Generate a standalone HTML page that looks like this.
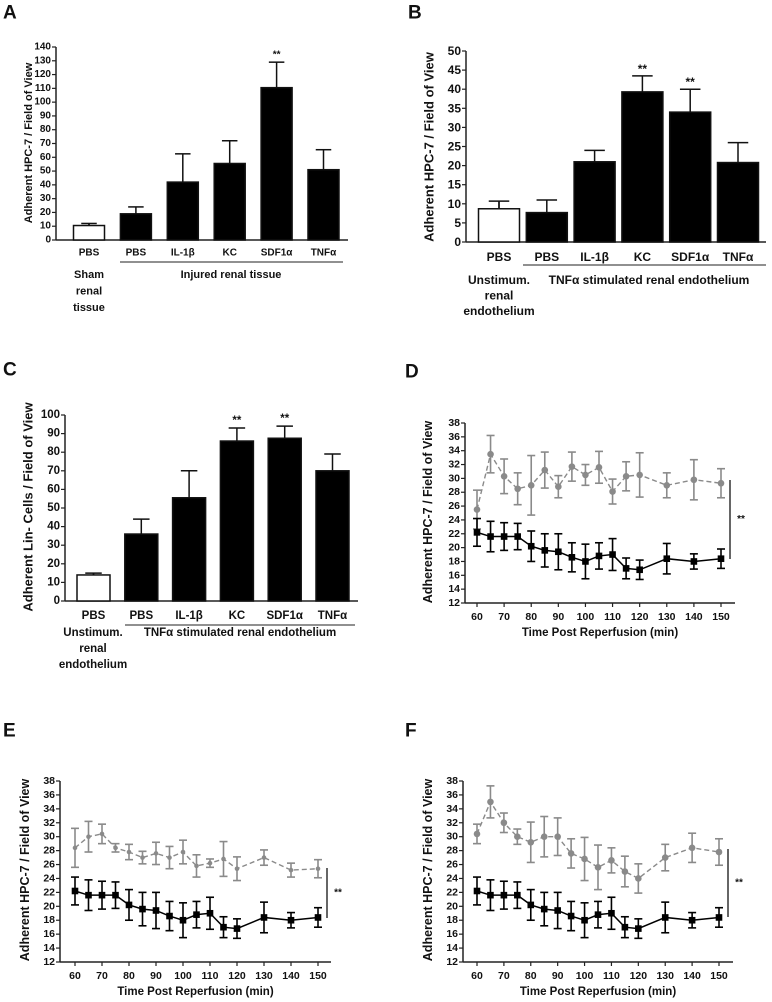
<!DOCTYPE html>
<html><head><meta charset="utf-8">
<style>
html,body{margin:0;padding:0;background:#fff;}
svg{display:block;font-family:"Liberation Sans",sans-serif;}
text{font-weight:bold;fill:#111;}
</style></head>
<body>
<svg id="fig" width="772" height="1002" viewBox="0 0 772 1002" xmlns="http://www.w3.org/2000/svg"></svg>
<script>
// ---------- data ----------
const barCats = ["PBS","PBS","IL-1β","KC","SDF1α","TNFα"];
const aVals = [10.5,19,42,55.5,110.5,51];
const aErrs = [12,24,62.5,72,129,65.5];
const aSig = [false,false,false,false,true,false];
const aTicks = [0,10,20,30,40,50,60,70,80,90,100,110,120,130,140];
const bVals = [8.7,7.7,21,39.3,34,20.8];
const bErrs = [10.7,11,24,43.5,40,26];
const bSig = [false,false,false,true,true,false];
const bTicks = [0,5,10,15,20,25,30,35,40,45,50];
const cVals = [14,36,55.5,86,87.5,70];
const cErrs = [15,44,70,93,94,79];
const cSig = [false,false,false,true,true,false];
const cTicks = [0,10,20,30,40,50,60,70,80,90,100];

const times = [60,65,70,75,80,85,90,95,100,105,110,115,120,130,140,150];
const timeTicks = [60,70,80,90,100,110,120,130,140,150];
const lineYTicks = [12,14,16,18,20,22,24,26,28,30,32,34,36,38];
const blackMean = [22.2,21.6,21.6,21.6,20.2,19.6,19.4,18.6,18,18.8,19,17,16.8,18.4,18,18.4];
const blackErr  = [2,2.2,2,1.9,2.2,2.4,2.6,2.1,2.5,1.9,2.3,1.5,1.4,2.2,1.1,1.4];
const dGrayMean = [25.5,33.5,30.3,28.5,29,31.2,28.8,31.7,30.5,31.6,28.1,30.3,30.5,29,29.8,29.3];
const dGrayErr  = [2.8,2.7,2.5,2.3,4.3,2.6,1.6,2.1,1.5,2.3,1.8,2.1,3.2,1.8,2.9,2.1];
const eGrayMean = [28.4,30,30.4,28.4,27.8,27,27.6,27,27.8,25.8,26.2,26.8,25.4,27,25.2,25.4];
const eGrayErr  = [2.8,2.2,1.4,0.6,1.1,0.9,1.6,1.6,1.7,1.6,0.6,2.5,1.7,1.1,1,1.3];
const fGrayMean = [30.4,35,32,30,29.2,30,30,27.6,26.8,25.6,26.6,25,24,27,28.4,27.8];
const fGrayErr  = [1.4,2.3,1.4,1.1,2.9,2.9,2.7,2.1,3.1,3.2,1.8,2.2,2.1,1.9,2.1,1.9];

// ---------- helpers ----------
const NS="http://www.w3.org/2000/svg";
const svg=document.getElementById('fig');
function mk(tag,attrs,parent){const e=document.createElementNS(NS,tag);for(const k in attrs)e.setAttribute(k,attrs[k]);(parent||svg).appendChild(e);return e;}
function txt(s,x,y,size,anchor,parent,extra){const t=mk('text',Object.assign({x:x,y:y,'font-size':size,'text-anchor':anchor||'middle','dominant-baseline':'central'},extra||{}),parent);t.textContent=s;return t;}
function group(name){const g=mk('g',{});return g;}

function barChart(p,vals,errs,sig,ticks,name){
  const g=group(name);
  const y=v=>p.y0-(v-ticks[0])/(ticks[ticks.length-1]-ticks[0])*(p.y0-p.y1);
  const ax=mk('line',{x1:p.ax,y1:p.y1,x2:p.ax,y2:p.y0,stroke:'#222','stroke-width':1.5},g);
  
  const xa=mk('line',{x1:p.ax,y1:p.y0,x2:p.xEnd,y2:p.y0,stroke:'#222','stroke-width':1.5},g);
  
  ticks.forEach(t=>{
    mk('line',{x1:p.ax-4,y1:y(t),x2:p.ax,y2:y(t),stroke:'#222','stroke-width':1.2},g);
    const tl=txt(String(t),p.ax-5,y(t),p.tf,'end',g);
    
  });
  vals.forEach((v,i)=>{
    const cx=p.c0+i*p.step;
    const e=errs[i];
    mk('line',{x1:cx,y1:y(v),x2:cx,y2:y(e),stroke:'#111','stroke-width':1.5},g);
    mk('line',{x1:cx-p.bw*0.25,y1:y(e),x2:cx+p.bw*0.25,y2:y(e),stroke:'#111','stroke-width':1.5},g);
    const r=mk('rect',{x:cx-p.bw/2,y:y(v),width:p.bw,height:p.y0-y(v),fill:i===0?'#fff':'#000',stroke:'#111','stroke-width':1.5},g);
    
    
    if(i===0){mk('line',{x1:cx,y1:y(v),x2:cx,y2:y(e),stroke:'#111','stroke-width':1.5},g);}
    const cl=txt(barCats[i],cx,p.labY,p.lf,'middle',g);
    
    if(sig[i]){const s=txt('**',cx,y(e)-7,p.tf,'middle',g,{'font-weight':'normal'});
      }
  });
  return {g:g,y:y};
}

function lineChart(p,grayM,grayE,grayMarker,name){
  const g=group(name);
  const x=t=>p.x60+(t-60)*(p.x150-p.x60)/90;
  const y=v=>p.y0-(v-12)/(38-12)*(p.y0-p.y1);
  const ax=mk('line',{x1:p.ax,y1:p.y1,x2:p.ax,y2:p.y0,stroke:'#222','stroke-width':1.5},g);
  
  const xa=mk('line',{x1:p.ax,y1:p.y0,x2:p.xEnd,y2:p.y0,stroke:'#222','stroke-width':1.5},g);
  
  lineYTicks.forEach(t=>{
    mk('line',{x1:p.ax-4,y1:y(t),x2:p.ax,y2:y(t),stroke:'#222','stroke-width':1.2},g);
    const tl=txt(String(t),p.ax-5,y(t),10.5,'end',g);
    
  });
  timeTicks.forEach(t=>{
    mk('line',{x1:x(t),y1:p.y0,x2:x(t),y2:p.y0+4,stroke:'#222','stroke-width':1.2},g);
    const tl=txt(String(t),x(t),p.y0+14,10.5,'middle',g);
    
  });
  const gp=mk('polyline',{points:times.map((t,i)=>x(t)+','+y(grayM[i])).join(' '),fill:'none',stroke:'#8a8a8a','stroke-width':1.4,'stroke-dasharray':'5,3'},g);
  
  times.forEach((t,i)=>{
    const cx=x(t);
    mk('line',{x1:cx,y1:y(grayM[i]-grayE[i]),x2:cx,y2:y(grayM[i]+grayE[i]),stroke:'#8a8a8a','stroke-width':1.6},g);
    [grayM[i]-grayE[i],grayM[i]+grayE[i]].forEach(v=>mk('line',{x1:cx-4,y1:y(v),x2:cx+4,y2:y(v),stroke:'#8a8a8a','stroke-width':1.6},g));
    const c=mk('circle',{cx:cx,cy:y(grayM[i]),r:grayMarker,fill:'#8a8a8a'},g);
    
  });
  const bp=mk('polyline',{points:times.map((t,i)=>x(t)+','+y(blackMean[i])).join(' '),fill:'none',stroke:'#000','stroke-width':1.5},g);
  
  times.forEach((t,i)=>{
    const cx=x(t);
    mk('line',{x1:cx,y1:y(blackMean[i]-blackErr[i]),x2:cx,y2:y(blackMean[i]+blackErr[i]),stroke:'#000','stroke-width':1.6},g);
    [blackMean[i]-blackErr[i],blackMean[i]+blackErr[i]].forEach(v=>mk('line',{x1:cx-4,y1:y(v),x2:cx+4,y2:y(v),stroke:'#000','stroke-width':1.6},g));
    const r=mk('rect',{x:cx-3.3,y:y(blackMean[i])-3.3,width:6.6,height:6.6,fill:'#000'},g);
    
  });
  const sb=mk('line',{x1:p.sx,y1:p.sy1,x2:p.sx,y2:p.sy2,stroke:'#333','stroke-width':1.5},g);
  
  const st=txt('**',p.sx+11,(p.sy1+p.sy2)/2,10,'middle',g,{'font-weight':'normal'});
  
  const yt=txt('Adherent HPC-7 / Field of View',p.ytx,p.yty,12.5,'middle',g,{transform:`rotate(-90 ${p.ytx} ${p.yty})`});
  
  if(p.xtitle){const xt=txt('Time Post Reperfusion (min)',(p.ax+p.xEnd)/2,p.y0+30,11.5,'middle',g);
    }
}
function panelLabel(s,x,y){const t=txt(s,x,y,19,'start',svg);}

// ---------- Panel A ----------
panelLabel('A',3,13);
const A=barChart({ax:56,y0:240,y1:47,xEnd:348,c0:89,step:46.9,bw:31,tf:10,lf:10,labY:253},aVals,aErrs,aSig,aTicks,'panel-a-chart');
(function(){const g=A.g;
 mk('line',{x1:120,y1:262,x2:343,y2:262,stroke:'#222','stroke-width':1},g);
 let t=txt('Injured renal tissue',231,275,11,'middle',g);
 ['Sham','renal','tissue'].forEach((s,i)=>{const q=txt(s,89,275+i*16.5,11,'middle',g);});
 const yt=txt('Adherent HPC-7 / Field of View',29,143,11,'middle',g,{transform:'rotate(-90 29 143)'});
})();

// ---------- Panel B ----------
panelLabel('B',408,13);
const B=barChart({ax:466,y0:242,y1:51,xEnd:766,c0:499,step:47.8,bw:41,tf:12,lf:12,labY:257},bVals,bErrs,bSig,bTicks,'panel-b-chart');
(function(){const g=B.g;
 mk('line',{x1:523,y1:265,x2:766,y2:265,stroke:'#222','stroke-width':1},g);
 let t=txt('TNFα stimulated renal endothelium',649,280,12,'middle',g);
 ['Unstimum.','renal','endothelium'].forEach((s,i)=>{const q=txt(s,499,280+i*15.5,12,'middle',g);});
 const yt=txt('Adherent HPC-7 / Field of View',429,147,13,'middle',g,{transform:'rotate(-90 429 147)'});
})();

// ---------- Panel C ----------
panelLabel('C',3,370);
const C=barChart({ax:65,y0:601,y1:415,xEnd:358,c0:93.5,step:47.8,bw:33,tf:11.5,lf:11.5,labY:616},cVals,cErrs,cSig,cTicks,'panel-c-chart');
(function(){const g=C.g;
 mk('line',{x1:125,y1:625,x2:355,y2:625,stroke:'#222','stroke-width':1},g);
 let t=txt('TNFα stimulated renal endothelium',240,633,11.5,'middle',g);
 ['Unstimum.','renal','endothelium'].forEach((s,i)=>{const q=txt(s,93,633+i*16,11.5,'middle',g);});
 const yt=txt('Adherent Lin- Cells / Field of View',28,507,13,'middle',g,{transform:'rotate(-90 28 507)'});
})();

// ---------- Panel D ----------
panelLabel('D',405,372);
lineChart({ax:465,y0:603,y1:423,xEnd:735,x60:477,x150:721,sx:730,sy1:480,sy2:559,ytx:428,yty:512,xtitle:true},dGrayMean,dGrayErr,3.3,'panel-d-chart');

// ---------- Panel E ----------
panelLabel('E',3,731);
lineChart({ax:60,y0:962,y1:781,xEnd:331,x60:75,x150:318,sx:327,sy1:868,sy2:918,ytx:25,yty:870,xtitle:true},eGrayMean,eGrayErr,2.3,'panel-e-chart');

// ---------- Panel F ----------
panelLabel('F',405,731);
lineChart({ax:463,y0:962,y1:781,xEnd:733,x60:477,x150:719,sx:728,sy1:849,sy2:917,ytx:428,yty:870,xtitle:true},fGrayMean,fGrayErr,3.3,'panel-f-chart');
</script>
</body></html>
